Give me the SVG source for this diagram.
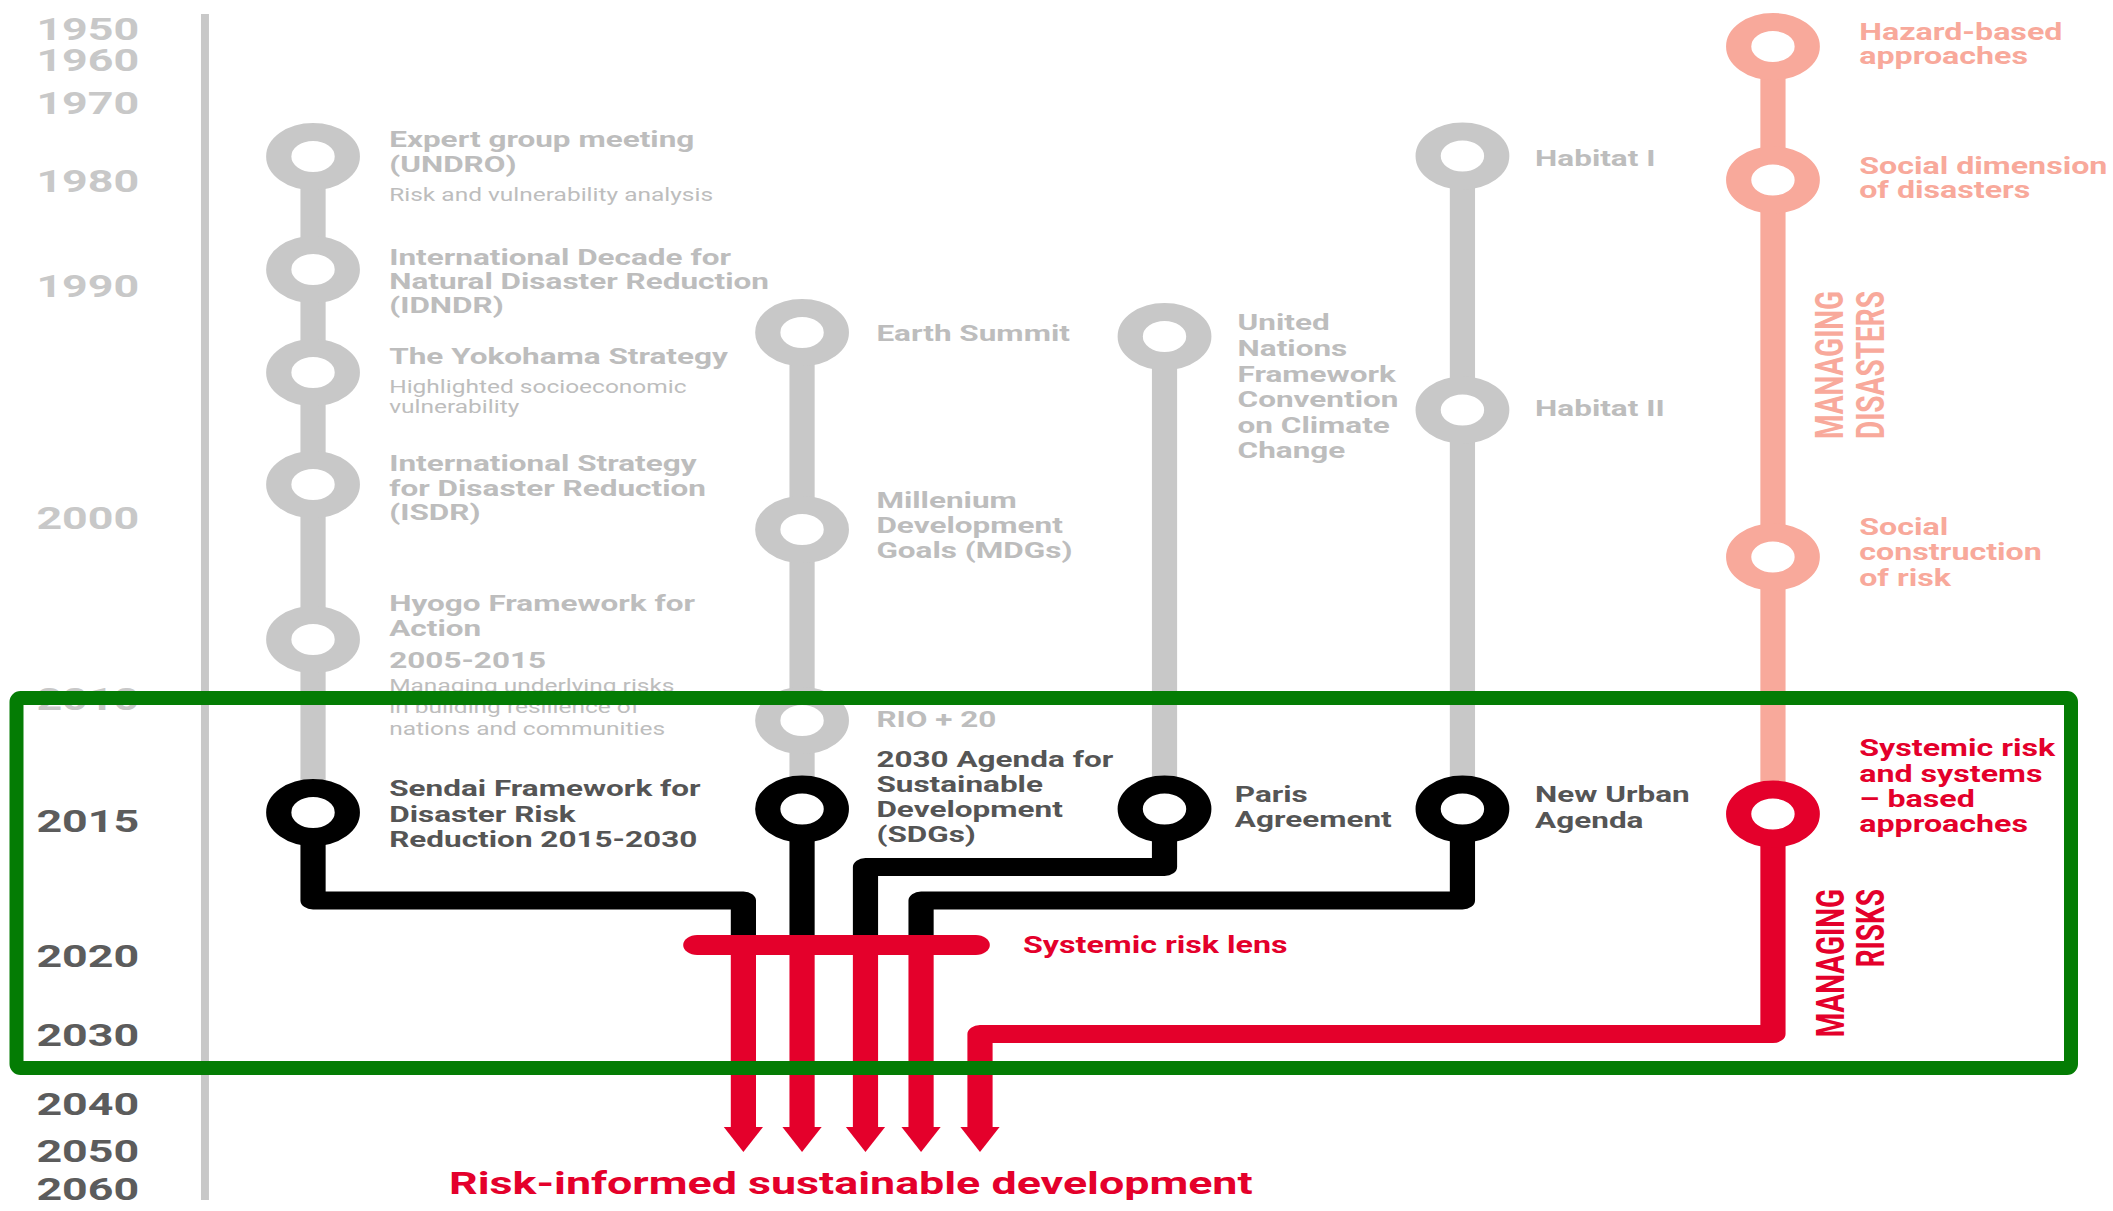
<svg xmlns="http://www.w3.org/2000/svg" width="2113" height="1211" viewBox="0 0 2113 1211">
<defs>
<style>
text{font-family:Roboto,"Liberation Sans",sans-serif;}
.yr{font-size:32px;font-weight:700;fill:#c8c8c8;}
.yd{font-size:32px;font-weight:700;fill:#5c5c5c;}
.lg{font-size:22.5px;font-weight:700;fill:#bdbdbd;}
.ls{font-size:17.5px;font-weight:400;fill:#bdbdbd;}
.ld{font-size:22.5px;font-weight:700;fill:#555555;}
.lp{font-size:23px;font-weight:700;fill:#f8a99b;}
.lr{font-size:23px;font-weight:700;fill:#e4002b;}
.vp{font-size:28px;font-weight:700;fill:#f8a99b;}
.vr{font-size:28px;font-weight:700;fill:#e4002b;}
.gl{fill:none;stroke:#c8c8c8;stroke-width:18;}
.sl{fill:none;stroke:#f8a99b;stroke-width:18;}
.bl{fill:none;stroke:#000;stroke-width:18;stroke-linejoin:round;}
.rl{fill:none;stroke:#e4002b;stroke-width:18;stroke-linejoin:round;}
.rg{fill:#fff;stroke:#c8c8c8;stroke-width:18;}
.rs{fill:#fff;stroke:#f8a99b;stroke-width:18;}
.rb{fill:#fff;stroke:#000;stroke-width:18;}
.rr{fill:#fff;stroke:#e4002b;stroke-width:18;}
</style>
<marker id="arr" viewBox="0 -15 26 30" markerWidth="26" markerHeight="30" refX="0" refY="0" orient="auto" markerUnits="userSpaceOnUse" overflow="visible">
<path d="M0,-14 L25,0 L0,14 Z" fill="#e4002b"/>
</marker>
</defs>
<rect x="0" y="0" width="2113" height="1211" fill="#fff"/>
<g transform="scale(1.4,1)">
<g id="axis">
<line x1="146.4" y1="14" x2="146.4" y2="1200" stroke="#c8c8c8" stroke-width="5.7"/>
<text class="yr" x="26" y="40">1950</text>
<text class="yr" x="26" y="71">1960</text>
<text class="yr" x="26" y="114">1970</text>
<text class="yr" x="26" y="192">1980</text>
<text class="yr" x="26" y="297">1990</text>
<text class="yr" x="26" y="529">2000</text>
<text class="yr" x="26" y="710">2010</text>
<text class="yd" x="26" y="832">2015</text>
<text class="yd" x="26" y="967">2020</text>
<text class="yd" x="26" y="1046">2030</text>
<text class="yd" x="26" y="1115">2040</text>
<text class="yd" x="26" y="1162">2050</text>
<text class="yd" x="26" y="1200">2060</text>
</g>
<g id="connectors">
<path class="gl" d="M223.6,156 V812"/>
<path class="gl" d="M572.9,332 V809"/>
<path class="gl" d="M831.8,337 V809"/>
<path class="gl" d="M1044.6,156 V809"/>
<path class="sl" d="M1266.4,46 V814"/>
<path class="bl" d="M223.6,812 V900.5 H531 V945"/>
<path class="bl" d="M572.9,809 V945"/>
<path class="bl" d="M831.8,809 V867 H618.2 V945"/>
<path class="bl" d="M1044.6,809 V900.5 H657.9 V945"/>
<path class="rl" d="M531,945 V1127" marker-end="url(#arr)"/>
<path class="rl" d="M572.9,945 V1127" marker-end="url(#arr)"/>
<path class="rl" d="M618.2,945 V1127" marker-end="url(#arr)"/>
<path class="rl" d="M657.9,945 V1127" marker-end="url(#arr)"/>
<path class="rl" d="M1266.4,814 V1034 H700 V1127" marker-end="url(#arr)"/>
</g>
<g id="lens">
<line x1="498" y1="945" x2="697" y2="945" stroke="#e4002b" stroke-width="20" stroke-linecap="round"/>
<text class="lr" x="730.7" y="953">Systemic risk lens</text>
</g>
<g id="node-undro">
<circle class="rg" cx="223.6" cy="156.5" r="24.5"/>
<text class="lg" x="278" y="147">Expert group meeting</text>
<text class="lg" x="278" y="172">(UNDRO)</text>
<text class="ls" x="278" y="201">Risk and vulnerability analysis</text>
</g>
<g id="node-idndr">
<circle class="rg" cx="223.6" cy="269.5" r="24.5"/>
<text class="lg" x="278" y="265">International Decade for</text>
<text class="lg" x="278" y="289">Natural Disaster Reduction</text>
<text class="lg" x="278" y="313">(IDNDR)</text>
</g>
<g id="node-yokohama">
<circle class="rg" cx="223.6" cy="372.5" r="24.5"/>
<text class="lg" x="278" y="364">The Yokohama Strategy</text>
<text class="ls" x="278" y="393">Highlighted socioeconomic</text>
<text class="ls" x="278" y="413">vulnerability</text>
</g>
<g id="node-isdr">
<circle class="rg" cx="223.6" cy="484.5" r="24.5"/>
<text class="lg" x="278" y="471">International Strategy</text>
<text class="lg" x="278" y="496">for Disaster Reduction</text>
<text class="lg" x="278" y="520">(ISDR)</text>
</g>
<g id="node-hyogo">
<circle class="rg" cx="223.6" cy="639.5" r="24.5"/>
<text class="lg" x="278" y="611">Hyogo Framework for</text>
<text class="lg" x="278" y="636">Action</text>
<text class="lg" x="278" y="668">2005-2015</text>
<text class="ls" x="278" y="692">Managing underlying risks</text>
<text class="ls" x="278" y="713">in building resilience of</text>
<text class="ls" x="278" y="735">nations and communities</text>
</g>
<g id="node-sendai">
<circle class="rb" cx="223.6" cy="812.5" r="24.5"/>
<text class="ld" x="278" y="796">Sendai Framework for</text>
<text class="ld" x="278" y="822">Disaster Risk</text>
<text class="ld" x="278" y="847">Reduction 2015-2030</text>
</g>
<g id="node-earth-summit">
<circle class="rg" cx="572.9" cy="332.5" r="24.5"/>
<text class="lg" x="626" y="341">Earth Summit</text>
</g>
<g id="node-mdgs">
<circle class="rg" cx="572.9" cy="529.5" r="24.5"/>
<text class="lg" x="626" y="508">Millenium</text>
<text class="lg" x="626" y="533">Development</text>
<text class="lg" x="626" y="558">Goals (MDGs)</text>
</g>
<g id="node-rio20">
<circle class="rg" cx="572.9" cy="720.5" r="24.5"/>
<text class="lg" x="626" y="727">RIO + 20</text>
</g>
<g id="node-sdgs">
<circle class="rb" cx="572.9" cy="809" r="24.5"/>
<text class="ld" x="626" y="767">2030 Agenda for</text>
<text class="ld" x="626" y="792">Sustainable</text>
<text class="ld" x="626" y="817">Development</text>
<text class="ld" x="626" y="842">(SDGs)</text>
</g>
<g id="node-unfccc">
<circle class="rg" cx="831.8" cy="336.5" r="24.5"/>
<text class="lg" x="884" y="330">United</text>
<text class="lg" x="884" y="356">Nations</text>
<text class="lg" x="884" y="382">Framework</text>
<text class="lg" x="884" y="407">Convention</text>
<text class="lg" x="884" y="433">on Climate</text>
<text class="lg" x="884" y="458">Change</text>
</g>
<g id="node-paris">
<circle class="rb" cx="831.8" cy="809" r="24.5"/>
<text class="ld" x="882" y="802">Paris</text>
<text class="ld" x="882" y="827">Agreement</text>
</g>
<g id="node-habitat1">
<circle class="rg" cx="1044.6" cy="156" r="24.5"/>
<text class="lg" x="1096.5" y="166">Habitat I</text>
</g>
<g id="node-habitat2">
<circle class="rg" cx="1044.6" cy="410" r="24.5"/>
<text class="lg" x="1096.5" y="416">Habitat II</text>
</g>
<g id="node-nua">
<circle class="rb" cx="1044.6" cy="809" r="24.5"/>
<text class="ld" x="1096.5" y="802">New Urban</text>
<text class="ld" x="1096.5" y="828">Agenda</text>
</g>
<g id="node-hazard">
<circle class="rs" cx="1266.4" cy="46.5" r="24.5"/>
<text class="lp" x="1328" y="40">Hazard-based</text>
<text class="lp" x="1328" y="64">approaches</text>
</g>
<g id="node-social-dimension">
<circle class="rs" cx="1266.4" cy="180" r="24.5"/>
<text class="lp" x="1328" y="174">Social dimension</text>
<text class="lp" x="1328" y="198">of disasters</text>
</g>
<g id="node-social-construction">
<circle class="rs" cx="1266.4" cy="557" r="24.5"/>
<text class="lp" x="1328" y="535">Social</text>
<text class="lp" x="1328" y="560">construction</text>
<text class="lp" x="1328" y="586">of risk</text>
</g>
<g id="node-systemic">
<circle class="rr" cx="1266.4" cy="814" r="24.5"/>
<text class="lr" x="1328" y="756">Systemic risk</text>
<text class="lr" x="1328" y="782">and systems</text>
<text class="lr" x="1328" y="807">– based</text>
<text class="lr" x="1328" y="832">approaches</text>
</g>
<g id="label-managing-disasters">
<text class="vp" transform="translate(1316.4,439) rotate(-90)">MANAGING</text>
<text class="vp" transform="translate(1345.7,439) rotate(-90)">DISASTERS</text>
</g>
<g id="label-managing-risks">
<text class="vr" text-anchor="end" transform="translate(1317,889) rotate(-90)">MANAGING</text>
<text class="vr" text-anchor="end" transform="translate(1345.7,889) rotate(-90)">RISKS</text>
</g>
<g id="label-outcome">
<text x="320.7" y="1194" style="font-size:32px;font-weight:700;fill:#e4002b;">Risk-informed sustainable development</text>
</g>
</g>
<g id="highlight-frame">
<rect x="16.5" y="698" width="2054.5" height="370" rx="4" fill="none" stroke="#047c04" stroke-width="14"/>
</g>
</svg>
